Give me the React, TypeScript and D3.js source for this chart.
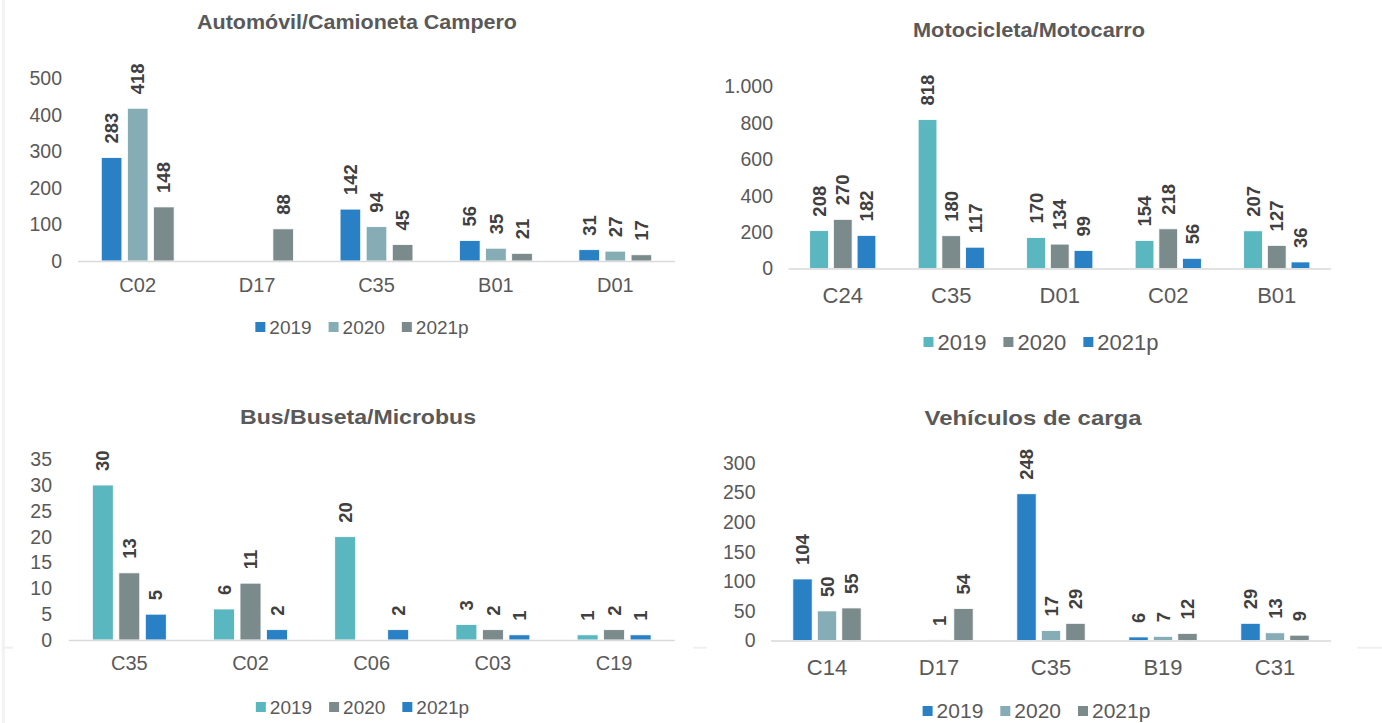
import React from "react";
import * as d3 from "d3";

// ---------- DATA ----------
const seriesNames = ["2019", "2020", "2021p"];

const autoTitle = "Automóvil/Camioneta Campero";
const autoCategories = ["C02", "D17", "C35", "B01", "D01"];
const auto2019 = [283, null, 142, 56, 31];
const auto2020 = [418, null, 94, 35, 27];
const auto2021p = [148, 88, 45, 21, 17];
const autoTicks = [0, 100, 200, 300, 400, 500];

const motoTitle = "Motocicleta/Motocarro";
const motoCategories = ["C24", "C35", "D01", "C02", "B01"];
const moto2019 = [208, 818, 170, 154, 207];
const moto2020 = [270, 180, 134, 218, 127];
const moto2021p = [182, 117, 99, 56, 36];
const motoTicks = [0, 200, 400, 600, 800, 1000];

const busTitle = "Bus/Buseta/Microbus";
const busCategories = ["C35", "C02", "C06", "C03", "C19"];
const bus2019 = [30, 6, 20, 3, 1];
const bus2020 = [13, 11, null, 2, 2];
const bus2021p = [5, 2, 2, 1, 1];
const busTicks = [0, 5, 10, 15, 20, 25, 30, 35];

const cargaTitle = "Vehículos de carga";
const cargaCategories = ["C14", "D17", "C35", "B19", "C31"];
const carga2019 = [104, null, 248, 6, 29];
const carga2020 = [50, 1, 17, 7, 13];
const carga2021p = [55, 54, 29, 12, 9];
const cargaTicks = [0, 50, 100, 150, 200, 250, 300];

// ---------- STYLE ----------
const BLUE = "#2A80C5";
const LIGHT = "#86ADB5";
const GRAY = "#7B8B8C";
const TEAL = "#5AB6BF";
const FONT = "'Liberation Sans', Arial, sans-serif";
const TICK_COLOR = "#595959";
const LABEL_COLOR = "#404040";

const esLocale = d3.formatLocale({
  decimal: ",",
  thousands: ".",
  grouping: [3],
  currency: ["$", ""],
});
const fmt = esLocale.format(",");

type PanelProps = {
  title: string;
  categories: string[];
  values: (number | null)[][];
  colors: string[];
  ticks: number[];
  xRange: [number, number];
  yRange: [number, number];
  tickRight: number;
  catY: number;
  catSize: number;
  legendCx: number;
  legendCy: number;
  legendSize: number;
  titleCx: number;
  titleBase: number;
  titleWidth: number;
};

function Panel(p: PanelProps) {
  const x0 = d3.scaleBand<string>().domain(p.categories).range(p.xRange).padding(0);
  const band = x0.bandwidth();
  const half = band * 0.305;
  const x1 = d3
    .scaleBand<string>()
    .domain(seriesNames)
    .range([-half, half])
    .paddingInner(0.21)
    .paddingOuter(0);
  const yMax = p.ticks[p.ticks.length - 1];
  const y = d3.scaleLinear().domain([0, yMax]).range(p.yRange);
  const tickSize = 19.5;
  const labelSize = 18.5;

  // legend layout
  const sq = 10;
  const gapSqText = 4;
  const gapItems = 17;
  const widths = seriesNames.map((s) => sq + gapSqText + s.length * 0.556 * p.legendSize);
  const total = widths.reduce((a, b) => a + b, 0) + gapItems * (seriesNames.length - 1);
  let cursor = p.legendCx - total / 2;
  const legendItems = seriesNames.map((s, i) => {
    const start = cursor;
    cursor += widths[i] + gapItems;
    return { s, start, color: p.colors[i] };
  });

  return (
    <g>
      <text
        x={p.titleCx}
        y={p.titleBase}
        textAnchor="middle"
        fontFamily={FONT}
        fontWeight="bold"
        fontSize={20}
        fill={TICK_COLOR}
        textLength={p.titleWidth}
        lengthAdjust="spacingAndGlyphs"
      >
        {p.title}
      </text>
      {p.ticks.map((t) => (
        <text
          key={"t" + t}
          x={p.tickRight}
          y={y(t)}
          dy="0.35em"
          textAnchor="end"
          fontFamily={FONT}
          fontSize={tickSize}
          fill={TICK_COLOR}
        >
          {fmt(t)}
        </text>
      ))}
      {p.categories.map((c, ci) => {
        const cx = (x0(c) as number) + band / 2;
        return (
          <g key={c}>
            {seriesNames.map((s, si) => {
              const v = p.values[si][ci];
              if (v === null || v === undefined) return null;
              const bx = cx + (x1(s) as number);
              const bw = x1.bandwidth();
              const top = y(v);
              const lx = bx + bw / 2;
              const ly = top - 14;
              return (
                <g key={s}>
                  <rect
                    x={bx}
                    y={top}
                    width={bw}
                    height={y(0) - top}
                    fill={p.colors[si]}
                    stroke="#ffffff"
                    strokeWidth={0.8}
                  />
                  <text
                    transform={`translate(${lx},${ly}) rotate(-90)`}
                    dy="0.36em"
                    textAnchor="start"
                    fontFamily={FONT}
                    fontWeight="bold"
                    fontSize={labelSize}
                    fill={LABEL_COLOR}
                  >
                    {fmt(v)}
                  </text>
                </g>
              );
            })}
            <text
              x={cx}
              y={p.catY}
              dy="0.35em"
              textAnchor="middle"
              fontFamily={FONT}
              fontSize={p.catSize}
              fill={TICK_COLOR}
            >
              {c}
            </text>
          </g>
        );
      })}
      <line
        x1={p.xRange[0]}
        x2={p.xRange[1]}
        y1={y(0) + 0.5}
        y2={y(0) + 0.5}
        stroke="#D9D9D9"
        strokeWidth={1.5}
      />
      {legendItems.map((it) => (
        <g key={it.s}>
          <rect x={it.start} y={p.legendCy - sq / 2} width={sq} height={sq} fill={it.color} />
          <text
            x={it.start + sq + gapSqText}
            y={p.legendCy}
            dy="0.35em"
            fontFamily={FONT}
            fontSize={p.legendSize}
            fill={TICK_COLOR}
          >
            {it.s}
          </text>
        </g>
      ))}
    </g>
  );
}

export default function App() {
  return (
    <svg
      width={1382}
      height={723}
      style={{ position: "absolute", left: 0, top: 0, background: "#ffffff" }}
    >
      <rect x={0} y={0} width={1382} height={723} fill="#ffffff" />
      <line x1={3.3} x2={3.3} y1={0} y2={723} stroke="#F2F2F2" strokeWidth={3} />
      <line x1={3} x2={13} y1={647.7} y2={647.7} stroke="#F0F0F0" strokeWidth={2} />
      <line x1={693} x2={707} y1={647.7} y2={647.7} stroke="#F0F0F0" strokeWidth={2} />
      <line x1={1357} x2={1382} y1={647.7} y2={647.7} stroke="#F0F0F0" strokeWidth={2} />
      <Panel
        title={autoTitle}
        categories={autoCategories}
        values={[auto2019, auto2020, auto2021p]}
        colors={[BLUE, LIGHT, GRAY]}
        ticks={autoTicks}
        xRange={[78, 675]}
        yRange={[261, 78.3]}
        tickRight={62}
        catY={285}
        catSize={20}
        legendCx={362}
        legendCy={327}
        legendSize={19}
        titleCx={357}
        titleBase={28.5}
        titleWidth={320}
      />
      <Panel
        title={motoTitle}
        categories={motoCategories}
        values={[moto2019, moto2020, moto2021p]}
        colors={[TEAL, GRAY, BLUE]}
        ticks={motoTicks}
        xRange={[788.5, 1331]}
        yRange={[268.5, 86.5]}
        tickRight={773}
        catY={295}
        catSize={22}
        legendCx={1041}
        legendCy={342}
        legendSize={22}
        titleCx={1029}
        titleBase={36.5}
        titleWidth={232}
      />
      <Panel
        title={busTitle}
        categories={busCategories}
        values={[bus2019, bus2020, bus2021p]}
        colors={[TEAL, GRAY, BLUE]}
        ticks={busTicks}
        xRange={[68.7, 674.7]}
        yRange={[640, 459.2]}
        tickRight={52}
        catY={663}
        catSize={20}
        legendCx={362.5}
        legendCy={707}
        legendSize={19}
        titleCx={358}
        titleBase={423.5}
        titleWidth={236}
      />
      <Panel
        title={cargaTitle}
        categories={cargaCategories}
        values={[carga2019, carga2020, carga2021p]}
        colors={[BLUE, LIGHT, GRAY]}
        ticks={cargaTicks}
        xRange={[771, 1331]}
        yRange={[640.5, 463]}
        tickRight={755.5}
        catY={667}
        catSize={22}
        legendCx={1036.5}
        legendCy={711}
        legendSize={21}
        titleCx={1033}
        titleBase={425}
        titleWidth={217}
      />
    </svg>
  );
}
